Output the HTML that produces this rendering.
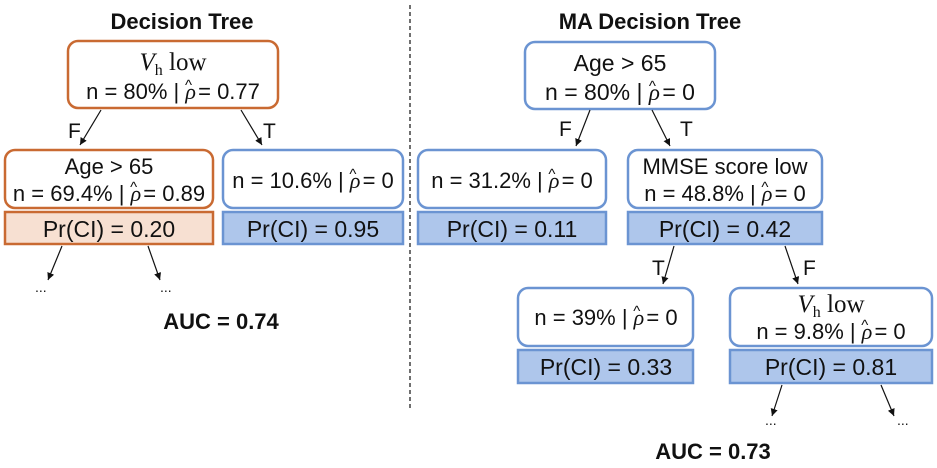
<!DOCTYPE html>
<html><head><style>
html,body{margin:0;padding:0;background:#fff;}
svg text{font-family:"Liberation Sans",sans-serif;fill:#111;}
.s{font-family:"Liberation Serif",serif;font-style:italic;}
</style></head><body>
<svg width="937" height="463" viewBox="0 0 937 463" xmlns="http://www.w3.org/2000/svg">
<defs><marker id="a" markerWidth="8" markerHeight="8" refX="6" refY="3" orient="auto"><path d="M0,0 L6,3 L0,6 z" fill="#111"/></marker></defs>
<line x1="410" y1="5" x2="410" y2="410" stroke="#222" stroke-width="1.3" stroke-dasharray="4,3"/>
<text x="182" y="29" font-size="22" font-weight="bold" text-anchor="middle">Decision Tree</text>
<text x="650" y="29" font-size="22" font-weight="bold" text-anchor="middle">MA Decision Tree</text>
<g fill="none" stroke-width="2.5">
<rect x="68" y="41" width="210" height="67" rx="10" stroke="#c96a32"/>
<rect x="5" y="150" width="208" height="58" rx="10" stroke="#c96a32"/>
<rect x="223" y="150" width="180" height="58" rx="10" stroke="#6b94d2"/>
<rect x="525" y="42" width="190" height="67" rx="10" stroke="#6b94d2"/>
<rect x="418" y="150" width="188" height="58" rx="10" stroke="#6b94d2"/>
<rect x="628" y="150" width="194" height="58" rx="10" stroke="#6b94d2"/>
<rect x="518" y="288" width="175" height="58" rx="10" stroke="#6b94d2"/>
<rect x="730" y="288" width="202" height="58" rx="10" stroke="#6b94d2"/>
</g>
<g stroke-width="2.5">
<rect x="5" y="212" width="208" height="32" fill="#f7e0d2" stroke="#c96a32"/>
<rect x="223" y="212" width="180" height="32" fill="#aec6eb" stroke="#6b94d2"/>
<rect x="418" y="212" width="188" height="32" fill="#aec6eb" stroke="#6b94d2"/>
<rect x="628" y="212" width="194" height="32" fill="#aec6eb" stroke="#6b94d2"/>
<rect x="518" y="350" width="175" height="33" fill="#aec6eb" stroke="#6b94d2"/>
<rect x="730" y="350" width="202" height="33" fill="#aec6eb" stroke="#6b94d2"/>
</g>
<g stroke="#111" stroke-width="1.2" marker-end="url(#a)">
<line x1="101" y1="110" x2="80" y2="145"/>
<line x1="241" y1="110" x2="262" y2="145"/>
<line x1="590" y1="110" x2="576" y2="146"/>
<line x1="652" y1="110" x2="670" y2="146"/>
<line x1="62" y1="246" x2="48" y2="280"/>
<line x1="148" y1="246" x2="160" y2="280"/>
<line x1="674" y1="246" x2="663" y2="284"/>
<line x1="785" y1="246" x2="798" y2="284"/>
<line x1="782" y1="385" x2="772" y2="416"/>
<line x1="881" y1="385" x2="894" y2="416"/>
</g>
<g font-size="21">
<text x="68" y="138">F</text><text x="263" y="138">T</text>
<text x="559" y="136">F</text><text x="680" y="136">T</text>
<text x="652" y="275">T</text><text x="803" y="275">F</text>
</g>
<g font-size="22">
<text x="173" y="70" text-anchor="middle"><tspan class="s" font-size="25">V</tspan><tspan font-family="Liberation Serif" font-size="16" dy="5">h</tspan><tspan font-family="Liberation Serif" font-size="25" dy="-5"> low</tspan></text>
<text x="173" y="99" text-anchor="middle">n = 80% | <tspan class="s">ρ</tspan><tspan dx="-11" dy="-9" font-size="15">^</tspan><tspan dy="9"> = 0.77</tspan></text>
<text x="109" y="174" text-anchor="middle">Age  &gt; 65</text>
<text x="109" y="201" text-anchor="middle">n = 69.4% | <tspan class="s">ρ</tspan><tspan dx="-11" dy="-9" font-size="15">^</tspan><tspan dy="9"> = 0.89</tspan></text>
<text x="313" y="188" text-anchor="middle">n = 10.6% | <tspan class="s">ρ</tspan><tspan dx="-11" dy="-9" font-size="15">^</tspan><tspan dy="9"> = 0</tspan></text>
<text x="620" y="71" text-anchor="middle" font-size="23">Age &gt; 65</text>
<text x="620" y="100" text-anchor="middle" font-size="23">n = 80% | <tspan class="s">ρ</tspan><tspan dx="-11" dy="-9" font-size="15">^</tspan><tspan dy="9"> = 0</tspan></text>
<text x="512" y="188" text-anchor="middle">n = 31.2% | <tspan class="s">ρ</tspan><tspan dx="-11" dy="-9" font-size="15">^</tspan><tspan dy="9"> = 0</tspan></text>
<text x="725" y="174" text-anchor="middle">MMSE score low</text>
<text x="725" y="201" text-anchor="middle">n = 48.8% | <tspan class="s">ρ</tspan><tspan dx="-11" dy="-9" font-size="15">^</tspan><tspan dy="9"> = 0</tspan></text>
<text x="606" y="325" text-anchor="middle">n = 39% | <tspan class="s">ρ</tspan><tspan dx="-11" dy="-9" font-size="15">^</tspan><tspan dy="9"> = 0</tspan></text>
<text x="831" y="312" text-anchor="middle"><tspan class="s" font-size="25">V</tspan><tspan font-family="Liberation Serif" font-size="16" dy="5">h</tspan><tspan font-family="Liberation Serif" font-size="25" dy="-5"> low</tspan></text>
<text x="831" y="339" text-anchor="middle">n = 9.8% | <tspan class="s">ρ</tspan><tspan dx="-11" dy="-9" font-size="15">^</tspan><tspan dy="9"> = 0</tspan></text>
</g>
<g font-size="23" text-anchor="middle">
<text x="109" y="237">Pr(CI) = 0.20</text>
<text x="313" y="237">Pr(CI) = 0.95</text>
<text x="512" y="237">Pr(CI) = 0.11</text>
<text x="725" y="237">Pr(CI) = 0.42</text>
<text x="606" y="375">Pr(CI) = 0.33</text>
<text x="831" y="375">Pr(CI) = 0.81</text>
</g>
<g font-size="14"><text x="35" y="292">...</text><text x="160" y="292">...</text><text x="765" y="425">...</text><text x="897" y="425">...</text></g>
<text x="221" y="329" font-size="22" font-weight="bold" text-anchor="middle">AUC = 0.74</text>
<text x="713" y="459" font-size="22" font-weight="bold" text-anchor="middle">AUC = 0.73</text>
</svg>
</body></html>
